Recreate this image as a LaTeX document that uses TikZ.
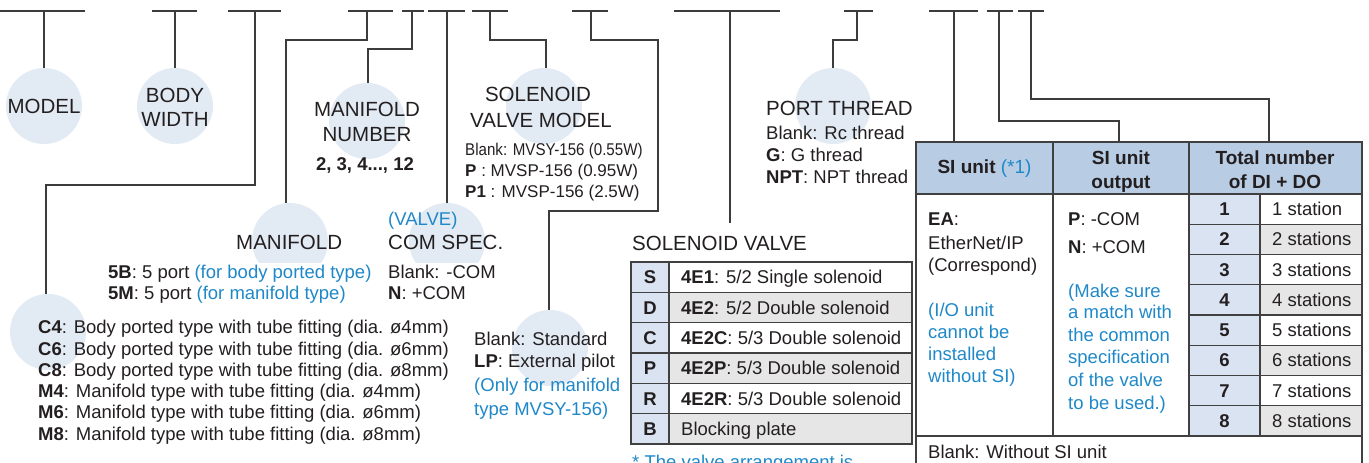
\documentclass[tikz,border=0pt]{standalone}
\usepackage{fontspec}
\setmainfont{Liberation Sans}
\newfontfamily\narrowfont{Liberation Sans}[FakeStretch=0.89]
\definecolor{txtc}{HTML}{231F20}
\definecolor{linec}{HTML}{3C3C3C}
\definecolor{bluec}{HTML}{1E88C8}
\definecolor{circc}{HTML}{E2EAF4}
\definecolor{hdrc}{HTML}{B8CCE4}
\definecolor{numc}{HTML}{D9E3F2}
\definecolor{gryc}{HTML}{E6E6E6}
\definecolor{cellc}{HTML}{404040}
\newcommand{\bluetxt}[1]{\textcolor{bluec}{#1}}
\tikzset{
  conn/.style={draw=linec, line width=1.2pt},
  bubble/.style={circle, fill=circc, draw=none, minimum size=76pt, inner sep=0pt},
  big/.style={font=\fontsize{20.5}{24}\selectfont, inner sep=0pt, text=txtc, anchor=base},
  bigl/.style={big, anchor=base west},
  tx/.style={font=\fontsize{18.5}{22}\selectfont, inner sep=0pt, text=txtc, anchor=base west},
  txc/.style={tx, anchor=base},
  txb/.style={font=\fontsize{18.5}{22}\selectfont\bfseries, inner sep=0pt, text=txtc, anchor=base},
  hd/.style={font=\fontsize{19}{22}\selectfont\bfseries, inner sep=0pt, text=txtc, anchor=base},
  sm/.style={font=\fontsize{17}{20}\selectfont, inner sep=0pt, text=txtc, anchor=base west},
  cellb/.style={draw=cellc, line width=1.4pt},
  mask/.style={fill=white, inner xsep=1pt, inner ysep=2.5pt},
}
\begin{document}
\begin{tikzpicture}[x=1pt, y=-1pt]
\useasboundingbox (0,0) rectangle (1369,463);
% ---------- bubbles ----------
\node[bubble] (bMODEL) at (44,106) {};
\node[bubble] (bBODY) at (175,106) {};
\node[bubble] (bMNUM) at (367,121) {};
\node[bubble] (bSVM) at (544,106) {};
\node[bubble] (bPT) at (833,106) {};
\node[bubble] (bMAN) at (290,241) {};
\node[bubble] (bCOM) at (447,241) {};
\node[bubble] (bTUBE) at (48,332) {};
\node[bubble] (bLP) at (550,348) {};
% ---------- code bars ----------
\foreach \n/\a/\b in {1/0/85, 2/152/197, 3/228/281, 4/348/393, 5/402/424, 6/428/465, 7/472/508, 8/572/608, 9/674/780, 10/844/873, 11/929/978, 12/987/1013, 13/1018/1044} {
  \coordinate (bar\n a) at (\a,11);
  \coordinate (bar\n b) at (\b,11);
  \draw[conn] (bar\n a) -- (bar\n b);
}
\coordinate (t1) at (44,11);
\coordinate (t2) at (175,11);
\coordinate (t3) at (255,11);
\coordinate (t4) at (367,11);
\coordinate (t5) at (412,11);
\coordinate (t6) at (447,11);
\coordinate (t7) at (490,11);
\coordinate (t8) at (591,11);
\coordinate (t9) at (730,11);
\coordinate (t10) at (857,11);
\coordinate (t11) at (954,11);
\coordinate (t12) at (999,11);
\coordinate (t13) at (1031,11);
\coordinate (k3) at (46,185);
\coordinate (k4) at (286,40);
\coordinate (k5) at (368,49);
\coordinate (k7) at (546,40);
\coordinate (k8a) at (658,40);
\coordinate (k8b) at (549,211);
\coordinate (e9) at (730,223);
\coordinate (k10) at (833,40);
\coordinate (si1) at (954,142);
\coordinate (k12) at (1119,121);
\coordinate (si2) at (1119,142);
\coordinate (k13) at (1269,99);
\coordinate (si3) at (1269,142);
% ---------- connectors ----------
\draw[conn] (t1) -- (bMODEL.north);
\draw[conn] (t2) -- (bBODY.north);
\draw[conn] (t3) |- (k3) -- (k3 |- bTUBE.north);
\draw[conn] (t4) |- (k4) -- (k4 |- bMAN.north);
\draw[conn] (t5) |- (k5) -- (k5 |- bMNUM.north);
\draw[conn] (t6) -- (bCOM.north);
\draw[conn] (t7) |- (k7) -- (k7 |- bSVM.north);
\draw[conn] (t8) |- (k8a) |- (k8b) -- (k8b |- bLP.north);
\draw[conn] (t9) -- (e9);
\draw[conn] (t10) |- (k10) -- (bPT.north);
\draw[conn] (t11) -- (si1);
\draw[conn] (t12) |- (k12) -- (si2);
\draw[conn] (t13) |- (k13) -- (si3);
% ---------- upper labels ----------
\node[big] (lMODEL) at (44,113) {MODEL};
\node[big] (lBODY1) at (175,102) {BODY};
\node[big] (lBODY2) at (175,126) {WIDTH};
\node[big] (lMN1) at (367,116) {MANIFOLD};
\node[big] (lMN2) at (367,141) {NUMBER};
\node[txb] (lMN3) at (365,170) {2, 3, 4..., 12};
\node[big] (lSV1) at (538,101) {SOLENOID};
\node[big] (lSV2) at (541,127) {VALVE MODEL};
\node[sm, font=\fontsize{17}{20}\narrowfont] (lSV3) at (465,155) {Blank: MVSY-156 (0.55W)};
\node[sm] (lSV4) at (465,176.5) {\textbf{P} : MVSP-156 (0.95W)};
\node[sm] (lSV5) at (465,197.5) {\textbf{P1} : MVSP-156 (2.5W)};
\node[bigl] (lPT) at (766,115) {PORT THREAD};
\node[tx] (lPT1) at (766,139.5) {Blank: Rc thread};
\node[tx] (lPT2) at (766,161.5) {\textbf{G}: G thread};
\node[tx] (lPT3) at (766,183.5) {\textbf{NPT}: NPT thread};
% ---------- middle labels ----------
\node[bigl] (lMAN) at (236,249) {MANIFOLD};
\node[tx, mask] (lMAN1) at (107,278.5) {\textbf{5B}: 5 port \bluetxt{(for body ported type)}};
\node[tx] (lMAN2) at (108,299.5) {\textbf{5M}: 5 port \bluetxt{(for manifold type)}};
\node[tx, text=bluec] (lCOM0) at (388,225.5) {(VALVE)};
\node[bigl] (lCOM) at (388,249) {COM SPEC.};
\node[tx, mask] (lCOM1) at (387,278.5) {Blank: -COM};
\node[tx] (lCOM2) at (388,299.5) {\textbf{N}: +COM};
\node[tx] (lT1) at (38,333.5) {\textbf{C4}: Body ported type with tube fitting (dia. ø4mm)};
\node[tx] (lT2) at (38,355.5) {\textbf{C6}: Body ported type with tube fitting (dia. ø6mm)};
\node[tx] (lT3) at (38,376.5) {\textbf{C8}: Body ported type with tube fitting (dia. ø8mm)};
\node[tx] (lT4) at (38,397.5) {\textbf{M4}: Manifold type with tube fitting (dia. ø4mm)};
\node[tx] (lT5) at (38,418.5) {\textbf{M6}: Manifold type with tube fitting (dia. ø6mm)};
\node[tx] (lT6) at (38,440.5) {\textbf{M8}: Manifold type with tube fitting (dia. ø8mm)};
\node[tx] (lLP1) at (474,345.5) {Blank: Standard};
\node[tx] (lLP2) at (474,367.5) {\textbf{LP}: External pilot};
\node[tx, text=bluec] (lLP3) at (474,391.5) {(Only for manifold};
\node[tx, text=bluec] (lLP4) at (474,415.5) {type MVSY-156)};
% ---------- solenoid valve table ----------
\node[bigl] (lSVT) at (632,250) {SOLENOID VALVE};
\foreach \k/\f in {0/white,1/gryc,2/white,3/gryc,4/white,5/gryc} {
  \pgfmathsetmacro\ya{262+30.33*\k}
  \pgfmathsetmacro\yb{\ya+30.33}
  \fill[numc] (631,\ya) rectangle (669,\yb);
  \fill[\f] (669,\ya) rectangle (912,\yb);
  \draw[cellb] (631,\ya) rectangle (669,\yb);
  \draw[cellb] (669,\ya) rectangle (912,\yb);
}
\node[txb] (sv1) at (650,283.7) {S};
\node[txb] (sv2) at (650,314.0) {D};
\node[txb] (sv3) at (650,344.3) {C};
\node[txb] (sv4) at (650,374.7) {P};
\node[txb] (sv5) at (650,405.0) {R};
\node[txb] (sv6) at (650,435.3) {B};
\node[tx] (svd1) at (681,283.7) {\textbf{4E1}: 5/2 Single solenoid};
\node[tx] (svd2) at (681,314.0) {\textbf{4E2}: 5/2 Double solenoid};
\node[tx] (svd3) at (681,344.3) {\textbf{4E2C}: 5/3 Double solenoid};
\node[tx] (svd4) at (681,374.7) {\textbf{4E2P}: 5/3 Double solenoid};
\node[tx] (svd5) at (681,405.0) {\textbf{4E2R}: 5/3 Double solenoid};
\node[tx] (svd6) at (681,435.3) {Blocking plate};
\node[tx, text=bluec] (svnote) at (632,468.5) {* The valve arrangement is};
% ---------- SI table ----------
\fill[hdrc] (916,142) rectangle (1362,194);
\draw[cellb] (916,142) rectangle (1053,194);
\draw[cellb] (1053,142) rectangle (1189,194);
\draw[cellb] (1189,142) rectangle (1362,194);
\draw[cellb] (916,194) rectangle (1053,436);
\draw[cellb] (1053,194) rectangle (1189,436);
\foreach \k in {1,...,8} {
  \pgfmathsetmacro\ya{194+30.25*(\k-1)}
  \pgfmathsetmacro\yb{\ya+30.25}
  \pgfmathsetmacro\yc{\ya+21.6}
  \ifodd\k \def\fc{white}\else\def\fc{gryc}\fi
  \fill[numc] (1189,\ya) rectangle (1260,\yb);
  \fill[\fc] (1260,\ya) rectangle (1362,\yb);
  \draw[cellb] (1189,\ya) rectangle (1260,\yb);
  \draw[cellb] (1260,\ya) rectangle (1362,\yb);
  \node[txb] (n\k) at (1224.5,\yc) {\k};
  \ifnum\k=1
    \node[tx] (st\k) at (1272,\yc) {\k\ station};
  \else
    \node[tx] (st\k) at (1272,\yc) {\k\ stations};
  \fi
}
\draw[cellb] (916,436) rectangle (1362,500);
\node[hd] (h1) at (984.5,173) {SI unit \textcolor{bluec}{\mdseries(*1)}};
\node[hd] (h2a) at (1121,164) {SI unit};
\node[hd] (h2b) at (1121,188) {output};
\node[hd] (h3a) at (1275,164) {Total number};
\node[hd] (h3b) at (1275,188) {of DI + DO};
\node[tx] (ea1) at (928,225.5) {\textbf{EA}:};
\node[tx] (ea2) at (928,249.5) {EtherNet/IP};
\node[tx] (ea3) at (928,271.5) {(Correspond)};
\node[tx, text=bluec] (ea4) at (928,316.5) {(I/O unit};
\node[tx, text=bluec] (ea5) at (928,338.5) {cannot be};
\node[tx, text=bluec] (ea6) at (928,360.5) {installed};
\node[tx, text=bluec] (ea7) at (928,382.5) {without SI)};
\node[tx] (po1) at (1068,225.5) {\textbf{P}: -COM};
\node[tx] (po2) at (1068,253.5) {\textbf{N}: +COM};
\node[tx, text=bluec] (po3) at (1068,297.5) {(Make sure};
\node[tx, text=bluec] (po4) at (1068,318.5) {a match with};
\node[tx, text=bluec] (po5) at (1068,341.5) {the common};
\node[tx, text=bluec] (po6) at (1068,363.5) {specification};
\node[tx, text=bluec] (po7) at (1068,386.5) {of the valve};
\node[tx, text=bluec] (po8) at (1068,409.5) {to be used.)};
\node[tx] (blank) at (928,458.5) {Blank: Without SI unit};
\end{tikzpicture}
\end{document}
